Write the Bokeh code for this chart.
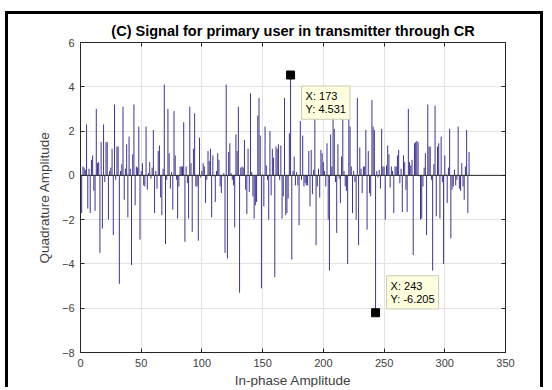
from bokeh.plotting import figure
from bokeh.models import Span, Label, LinearAxis, Range1d, FixedTicker, ColumnDataSource
from bokeh.embed import file_html
from bokeh.resources import INLINE

# Received quadrature amplitude for each in-phase sample index (1..320)
amplitude = [
    -1.7, 0.4, 0.35, 0.25, 2.3, -1.5, 0.3, -1.7, 0.7, 0.9,
    -0.7, -1.6, 3.0, 0.55, 0.6, -3.5, 1.5, -2.4, 2.3, -0.3,
    1.5, 1.5, -2.0, 0.2, 0.35, 1.2, -2.7, 3.2, -0.2, 1.3,
    1.3, -4.9, 0.2, 0.5, 3.1, -1.1, 0.3, 1.4, -1.9, 1.75,
    0.3, -4.05, 0.95, 3.2, -1.35, 0.4, 0.35, 2.2, -2.9, 0.2,
    0.55, -0.45, -0.5, 2.2, -0.65, 0.1, 0.6, -0.15, 0.35, 2.05,
    -1.7, 0.2, -0.6, 1.1, 1.35, -1.0, -1.8, 0.3, 4.1, -3.1,
    -0.2, 3.0, 1.0, -0.6, 0.15, -1.55, 2.9, 0.9, -0.2, -1.95,
    -0.5, 0.4, 0.4, 0.4, 2.4, -3.0, 0.4, -0.35, -1.95, 3.1,
    0.55, -2.55, 1.2, 2.8, -0.5, -0.5, -2.95, 1.7, -0.1, 0.2,
    0.55, 0.4, -1.25, -0.2, 1.1, 0.65, 1.2, -1.9, 0.9, -0.05,
    -1.2, 0.2, 1.0, 0.7, -0.5, -0.8, -0.05, 0.1, -3.5, 4.1,
    -3.75, 1.05, 1.45, 0.1, -0.2, -0.45, -2.35, 1.85, 1.1, 3.1,
    -5.3, 0.35, 0.4, 0.35, 1.6, -0.65, -1.75, 1.2, -0.75, 3.7,
    0.15, -0.95, -1.95, -1.35, -1.2, 2.7, 3.5, 1.8, -5.1, 0.05,
    -1.4, 2.2, 0.45, -0.2, -2.0, 2.0, -0.9, 1.2, 0.8, -4.6,
    1.3, 1.2, 1.4, -0.2, 1.35, -1.95, -0.95, 3.5, -1.8, -1.7,
    -1.05, 1.9, 4.531, -3.8, 0.2, 0.85, -0.45, 0.15, -0.45, -2.25,
    2.45, -0.2, 1.8, -0.5, -0.35, -0.45, -0.45, 1.1, -1.4, 1.15,
    -0.85, 0.25, 2.65, -3.15, -0.5, 0.3, -1.0, 1.15, 1.0, 0.6,
    0.2, -0.5, 1.45, -2.0, -4.3, 1.85, 0.4, 2.65, 2.1, -0.3,
    -2.6, 1.4, -0.15, -1.25, 0.85, 2.65, 0.2, -0.5, -0.7, -4.0,
    2.65, 2.2, 0.4, -1.7, 0.2, -0.3, -2.0, 3.5, -3.15, 1.25,
    0.3, -0.8, 0.4, 0.4, 2.05, -2.45, 1.1, -0.8, -0.95, 3.4,
    2.2, 2.05, -6.205, 0.2, -0.1, 0.25, -0.6, 2.1, 0.4, 0.4,
    -2.0, 0.45, 1.35, 0.95, -0.55, 0.4, 0.2, -1.7, 0.4, 0.4,
    0.9, 1.15, -0.35, 0.3, -1.65, 0.9, 0.6, -0.65, -1.65, 3.0,
    0.6, 0.45, 0.7, -3.6, 1.45, 1.5, 1.55, 1.5, -0.05, -2.0,
    -1.95, -0.5, 0.35, 1.0, -2.7, 3.2, 1.3, 1.3, -0.2, -4.3,
    0.5, 3.15, -1.85, 1.3, 1.45, -1.95, 1.75, -0.3, -4.0, 0.9,
    0.05, -1.25, 0.35, 2.1, -2.85, -0.65, -0.5, 0.25, -0.45, -0.2,
    2.2, -0.6, -0.7, 0.55, -0.5, -1.1, 0.4, 2.05, -1.7, 1.05,
]
sample = list(range(1, len(amplitude) + 1))

# Samples marked with data tips
tip_samples = [173, 243]

x_ticks = [0, 50, 100, 150, 200, 250, 300, 350]
y_ticks = [-8, -6, -4, -2, 0, 2, 4, 6]

FONT = "Liberation Sans"
AXIS_DARK = "#262626"
LABEL_GREY = "#404040"

p = figure(
    width=538, height=376,
    x_range=Range1d(0, 350), y_range=Range1d(-8, 6),
    output_backend="svg", toolbar_location=None,
    min_border_left=72, min_border_right=41,
    min_border_top=28, min_border_bottom=38,
    background_fill_color="white", border_fill_color="white",
)
# outer figure frame
p.styles = {
    "margin-left": "5px", "margin-top": "11px",
    "border-left": "3px solid black", "border-top": "3px solid black",
    "border-right": "3px solid black",
}

p.title.text = "(C) Signal for primary user in transmitter through CR"
p.title.text_font = FONT
p.title.text_font_size = "14.5px"
p.title.text_font_style = "bold"
p.title.text_color = "black"
p.title.align = "center"
p.title.standoff = 8

p.outline_line_color = AXIS_DARK

xt = FixedTicker(ticks=x_ticks)
yt = FixedTicker(ticks=y_ticks)

for ax, tk in ((p.xaxis[0], xt), (p.yaxis[0], yt)):
    ax.ticker = tk
    ax.major_tick_in = 4
    ax.major_tick_out = 0
    ax.minor_tick_line_color = None
    ax.axis_line_color = AXIS_DARK
    ax.major_tick_line_color = AXIS_DARK
    ax.major_label_text_font = FONT
    ax.major_label_text_font_size = "11px"
    ax.major_label_text_color = LABEL_GREY
    ax.major_label_standoff = 6
    ax.axis_label_text_font = FONT
    ax.axis_label_text_font_size = "13.5px"
    ax.axis_label_text_font_style = "normal"
    ax.axis_label_text_color = LABEL_GREY

p.xaxis.axis_label = "In-phase Amplitude"
p.yaxis.axis_label = "Quadrature Amplitude"
p.xaxis.axis_label_standoff = 3
p.yaxis.axis_label_standoff = 7

# box: tick marks on the top and right edges too (labels not drawn)
for side, tk in (("above", xt), ("right", yt)):
    ax = LinearAxis(ticker=tk, major_label_text_font_size="1px",
                    major_label_text_color=None,
                    major_tick_in=4, major_tick_out=0, major_label_standoff=0,
                    minor_tick_line_color=None, axis_line_color=AXIS_DARK,
                    major_tick_line_color=AXIS_DARK)
    p.add_layout(ax, side)

p.xgrid.ticker = xt
p.ygrid.ticker = yt
p.xgrid.grid_line_color = "#e2e2e2"
p.ygrid.grid_line_color = "#e2e2e2"

src = ColumnDataSource(data=dict(x=sample, y=amplitude))
p.segment(x0="x", y0=0, x1="x", y1="y", source=src,
          line_color="#3b3593", line_width=1)

# stem baseline
p.add_layout(Span(location=0, dimension="width", line_color=AXIS_DARK, line_width=1))

tip_x = tip_samples
tip_y = [amplitude[s - 1] for s in tip_samples]
p.scatter(x=tip_x, y=tip_y, marker="square", size=8,
          fill_color="black", line_color="black")

tip_offsets = [(11, -11), (11, 37)]
for (tx, ty), (dx, dy) in zip(zip(tip_x, tip_y), tip_offsets):
    p.add_layout(Label(
        x=tx, y=ty, x_offset=dx, y_offset=dy,
        text=f"X: {tx}\nY: {ty:g}",
        text_font=FONT, text_font_size="11px", text_color="black",
        text_align="left", text_baseline="top", text_line_height=1.1,
        background_fill_color="#ffffe0", border_line_color="#c9c9b4",
        padding=4,
    ))

open("out.html", "w").write(file_html(p, INLINE))
